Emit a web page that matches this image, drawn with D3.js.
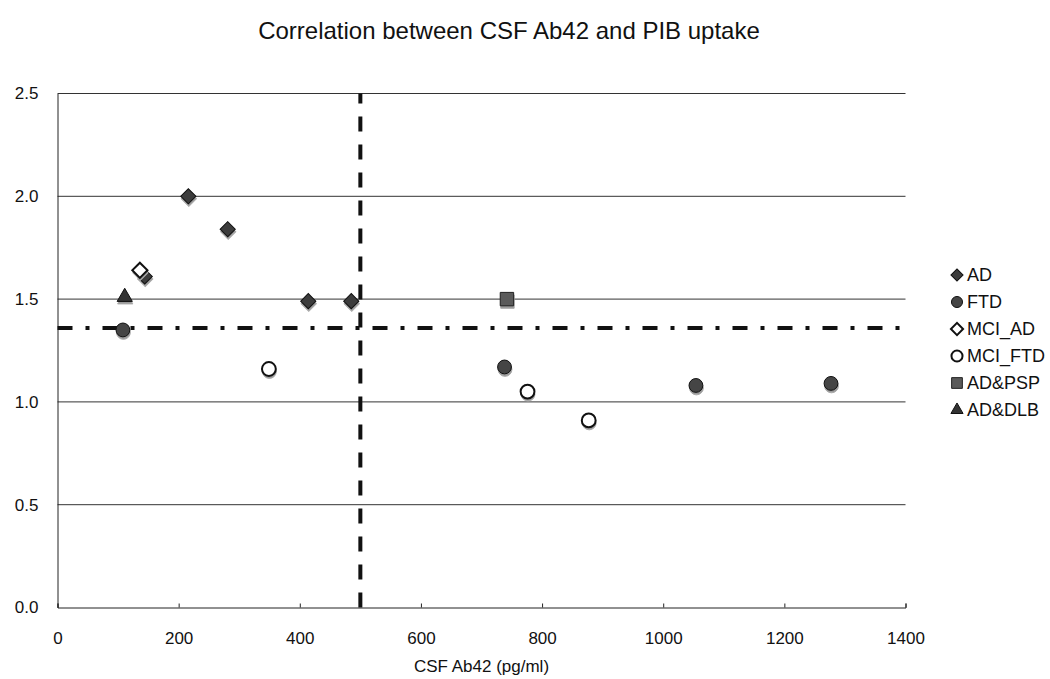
<!DOCTYPE html>
<html>
<head>
<meta charset="utf-8">
<script src="https://cdn.jsdelivr.net/npm/d3@7"></script>
<style>
    body { margin: 0; background: #fff; }
    svg { font-family: "Liberation Sans", Arial, sans-serif; }
</style>
</head>
<body>
<svg id="chart" width="1050" height="679"></svg>
<script>
// values: [CSF Ab42 (pg/ml), PIB uptake]
const adPoints = [[216, 2.00], [281, 1.84], [144, 1.61], [414, 1.49], [485, 1.49]];
const ftdPoints = [[108, 1.35], [738, 1.17], [1054, 1.08], [1277, 1.09]];
const mciAdPoints = [[136, 1.64]];
const mciFtdPoints = [[349, 1.16], [776, 1.05], [877, 0.91]];
const adPspPoints = [[742, 1.50]];
const adDlbPoints = [[111, 1.51]];

const seriesNames = ["AD", "FTD", "MCI_AD", "MCI_FTD", "AD&PSP", "AD&DLB"];
const xTicks = [0, 200, 400, 600, 800, 1000, 1200, 1400];
const yTicks = [0, 0.5, 1.0, 1.5, 2.0, 2.5];
const cutoffAb42 = 500;
const cutoffPib = 1.36;

const titleText = "Correlation between CSF Ab42 and PIB uptake";
const xTitle = "CSF Ab42 (pg/ml)";

const svg = d3.select("#chart");

const x = d3.scaleLinear().domain([0, 1400]).range([57.5, 905.5]);
const y = d3.scaleLinear().domain([0, 2.5]).range([607.5, 93.5]);

// marker look for each series
const markerStyles = {
    "AD":      { type: d3.symbolSquare, size: 115, rotate: 45, fill: "#3c3c3c", stroke: "#111", sw: 1 },
    "FTD":     { type: d3.symbolCircle, size: 150, rotate: 0, fill: "#454545", stroke: "#111", sw: 1 },
    "MCI_AD":  { type: d3.symbolSquare, size: 115, rotate: 45, fill: "#fff", stroke: "#111", sw: 2 },
    "MCI_FTD": { type: d3.symbolCircle, size: 150, rotate: 0, fill: "#fff", stroke: "#111", sw: 2 },
    "AD&PSP":  { type: d3.symbolSquare, size: 180, rotate: 0, fill: "#5a5a5a", stroke: "#222", sw: 1 },
    "AD&DLB":  { type: d3.symbolTriangle, size: 100, rotate: 0, fill: "#333", stroke: "#111", sw: 1 }
};

const series = [
    { name: "AD", values: adPoints },
    { name: "FTD", values: ftdPoints },
    { name: "MCI_AD", values: mciAdPoints },
    { name: "MCI_FTD", values: mciFtdPoints },
    { name: "AD&PSP", values: adPspPoints },
    { name: "AD&DLB", values: adDlbPoints }
];

// title
svg.append("text")
    .attr("x", 509)
    .attr("y", 39)
    .attr("text-anchor", "middle")
    .attr("font-size", 24)
    .attr("fill", "#111")
    .text(titleText);

// horizontal gridlines
svg.append("g")
    .attr("class", "grid")
    .selectAll("line")
    .data(yTicks.filter(d => d > 0))
    .join("line")
    .attr("x1", x(0))
    .attr("x2", x(1400))
    .attr("y1", d => y(d))
    .attr("y2", d => y(d))
    .attr("stroke", "#333")
    .attr("stroke-width", 1);

// y axis
const yAxis = d3.axisLeft(y)
    .tickValues(yTicks)
    .tickFormat(d3.format(".1f"))
    .tickSize(0)
    .tickPadding(19);

svg.append("g")
    .attr("transform", `translate(${x(0)},0)`)
    .call(yAxis)
    .call(g => g.select(".domain").attr("stroke", "#222"))
    .call(g => g.selectAll("text").attr("font-size", 17).attr("fill", "#111").attr("font-family", null));

// x axis, ticks pointing inward
const xAxis = d3.axisBottom(x)
    .tickValues(xTicks)
    .tickFormat(d3.format("d"))
    .tickSizeInner(-4)
    .tickSizeOuter(-4)
    .tickPadding(24);

svg.append("g")
    .attr("transform", `translate(0,${y(0)})`)
    .call(xAxis)
    .call(g => g.select(".domain").attr("stroke", "#222"))
    .call(g => g.selectAll(".tick line").attr("stroke", "#222"))
    .call(g => g.selectAll("text").attr("font-size", 17).attr("fill", "#111").attr("font-family", null));

svg.append("text")
    .attr("x", (x(0) + x(1400)) / 2)
    .attr("y", 672)
    .attr("text-anchor", "middle")
    .attr("font-size", 17)
    .attr("fill", "#111")
    .text(xTitle);

// cutoff lines
svg.append("line")
    .attr("x1", x(cutoffAb42))
    .attr("x2", x(cutoffAb42))
    .attr("y1", y(0))
    .attr("y2", y(2.5))
    .attr("stroke", "#111")
    .attr("stroke-width", 4)
    .attr("stroke-dasharray", "15,13");

svg.append("line")
    .attr("x1", x(0))
    .attr("x2", x(1400))
    .attr("y1", y(cutoffPib))
    .attr("y2", y(cutoffPib))
    .attr("stroke", "#111")
    .attr("stroke-width", 4)
    .attr("stroke-dasharray", "15,13,4,13");

function drawMarker(g, name, cx, cy, scale, shadow) {
    const st = markerStyles[name];
    const path = d3.symbol().type(st.type).size(st.size * scale * scale)();
    if (shadow) {
        g.append("path")
            .attr("d", path)
            .attr("transform", `translate(${cx + 0.5},${cy + 2.5}) rotate(${st.rotate})`)
            .attr("fill", "#9a9a9a")
            .attr("stroke", "#aaa")
            .attr("stroke-width", 1);
    }
    g.append("path")
        .attr("d", path)
        .attr("transform", `translate(${cx},${cy}) rotate(${st.rotate})`)
        .attr("fill", st.fill)
        .attr("stroke", st.stroke)
        .attr("stroke-width", st.sw);
}

// points
const pointsG = svg.append("g").attr("class", "points");
series.forEach(s => {
    s.values.forEach(d => drawMarker(pointsG, s.name, x(d[0]), y(d[1]), 1, true));
});

// legend
const legendG = svg.append("g").attr("class", "legend");
seriesNames.forEach((name, i) => {
    const ly = 275 + i * 27;
    drawMarker(legendG, name, 957, ly, 0.8, false);
    legendG.append("text")
        .attr("x", 967)
        .attr("y", ly)
        .attr("dy", "0.36em")
        .attr("font-size", 18)
        .attr("fill", "#111")
        .text(name);
});
</script>
</body>
</html>
